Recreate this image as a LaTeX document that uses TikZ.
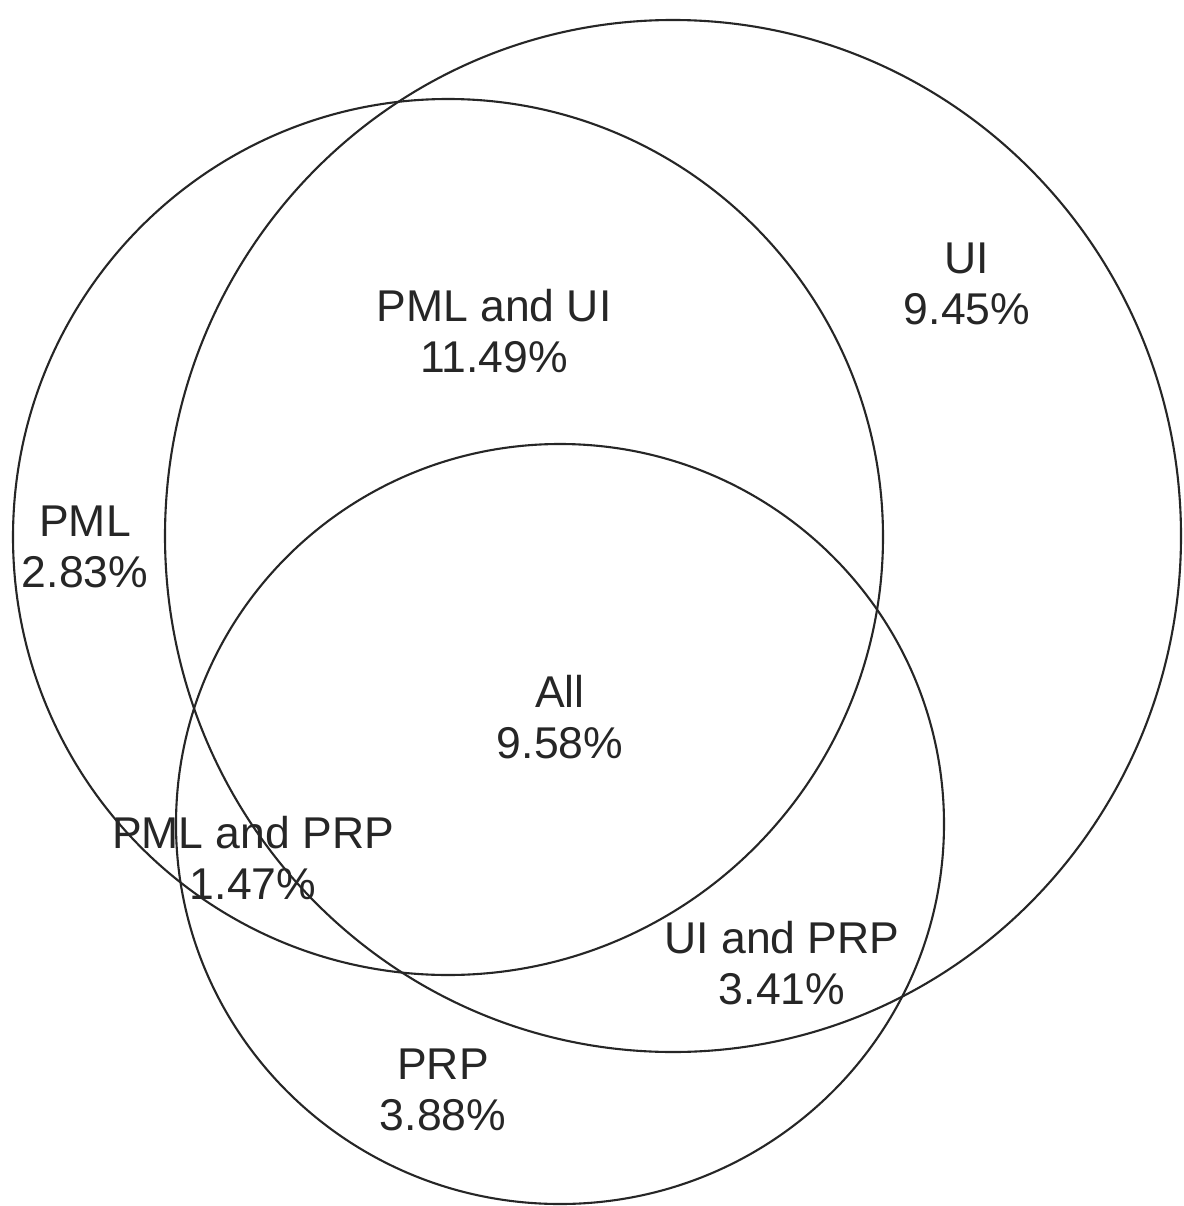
\documentclass[tikz,border=0pt]{standalone}
\usepackage{fontspec}
\setmainfont{Liberation Sans}
\begin{document}
\begin{tikzpicture}[x=1pt,y=-1pt,
  setline/.style={line width=2.1pt,draw=black!85},
  lbl/.style={align=center,inner sep=0pt,font=\fontsize{44.5}{51}\selectfont,text=black!85}]
\useasboundingbox (0,0) rectangle (1183,1206);
\fill[white] (0,0) rectangle (1183,1206);
% sets
\draw[setline] (448,537) ellipse [x radius=435, y radius=438];
\draw[setline] (673,536) ellipse [x radius=508, y radius=516];
\draw[setline] (560,824) ellipse [x radius=384, y radius=380];
% labels
\node[lbl] (pmlui) at (494,331) {PML and UI\\11.49\%};
\node[lbl] (ui) at (967,284) {UI\\9.45\%};
\node[lbl] (pml) at (85,547) {PML\\2.83\%};
\node[lbl] (all) at (560,717) {All\\9.58\%};
\node[lbl] (pmlprp) at (253,858) {PML and PRP\\1.47\%};
\node[lbl] (uiprp) at (782,963) {UI and PRP\\3.41\%};
\node[lbl] (prp) at (443,1090) {PRP\\3.88\%};
\end{tikzpicture}
\end{document}
